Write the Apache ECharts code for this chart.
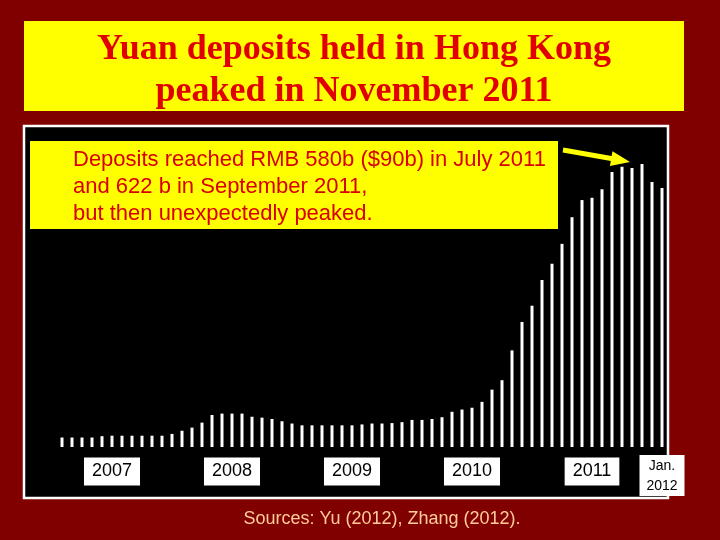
<!DOCTYPE html>
<html>
<head>
<meta charset="utf-8">
<script src="https://cdn.jsdelivr.net/npm/echarts@6/dist/echarts.min.js"></script>
<style>html,body{margin:0;padding:0;background:#800000;}#c{width:720px;height:540px;}</style>
</head>
<body>
<div id="c"></div>
<script>
// Monthly categories, Jan 2007 .. Jan 2012
const categories = [
  '2007-01','2007-02','2007-03','2007-04','2007-05','2007-06','2007-07','2007-08','2007-09','2007-10','2007-11','2007-12',
  '2008-01','2008-02','2008-03','2008-04','2008-05','2008-06','2008-07','2008-08','2008-09','2008-10','2008-11','2008-12',
  '2009-01','2009-02','2009-03','2009-04','2009-05','2009-06','2009-07','2009-08','2009-09','2009-10','2009-11','2009-12',
  '2010-01','2010-02','2010-03','2010-04','2010-05','2010-06','2010-07','2010-08','2010-09','2010-10','2010-11','2010-12',
  '2011-01','2011-02','2011-03','2011-04','2011-05','2011-06','2011-07','2011-08','2011-09','2011-10','2011-11','2011-12',
  '2012-01'
];
// Yuan deposits in Hong Kong, RMB billion
const deposits = [
  21, 21, 21, 21, 24, 25, 25, 25, 25, 25, 25, 29,
  36, 43, 54, 71, 74, 74, 74, 67, 65, 62, 57, 52,
  48, 48, 48, 48, 48, 48, 50, 52, 52, 53, 55, 60,
  60, 62, 66, 78, 83, 87, 100, 127, 148, 214, 277, 313,
  370, 406, 450, 509, 547, 552, 571, 609, 621, 618, 627, 587,
  574
];
// Tick labels, keyed by the category they sit under
const tickLabels = {
  '2007-06': '2007',
  '2008-06': '2008',
  '2009-06': '2009',
  '2010-06': '2010',
  '2011-06': '2011',
  '2012-01': 'Jan.|2012'
};
const titleText = 'Yuan deposits held in Hong Kong\npeaked in November 2011';
const noteText = 'Deposits reached RMB 580b ($90b) in July 2011\nand 622 b in September 2011,\nbut then unexpectedly peaked.';
const sourceText = 'Sources: Yu (2012), Zhang (2012).';

const chart = echarts.init(document.getElementById('c'));
chart.setOption({
  backgroundColor: '#800000',
  animation: false,
  title: {
    text: titleText,
    left: 354,
    top: 29,
    textAlign: 'center',
    padding: 0,
    textStyle: {
      fontFamily: 'Liberation Serif',
      fontWeight: 'bold',
      fontSize: 36,
      lineHeight: 42,
      color: '#e00000'
    }
  },
  graphic: [
    { type: 'rect', z: -20, shape: { x: 24, y: 21, width: 660, height: 90 }, style: { fill: '#ffff00' } },
    { type: 'rect', z: -10, shape: { x: 24, y: 126, width: 644, height: 372 }, style: { fill: '#000000', stroke: '#ffffff', lineWidth: 2.5 } },
    { type: 'rect', z: 5, shape: { x: 30, y: 141, width: 528, height: 88 }, style: { fill: '#ffff00' } },
    { type: 'text', z: 6, x: 73, y: 146, style: { text: noteText, font: '22px "Liberation Sans", Arial, sans-serif', lineHeight: 27, fill: '#d80000' } },
    { type: 'polygon', z: 6, shape: { points: [[563.4,147.6],[611.6,156.1],[612.5,151.2],[630,162],[609.9,166.0],[610.8,161.1],[562.6,152.4]] }, style: { fill: '#ffff00' } },
    { type: 'text', z: 6, x: 382, y: 519, style: { text: sourceText, font: '18px "Liberation Sans", Arial, sans-serif', fill: '#ffcc99', align: 'center', verticalAlign: 'middle' } }
  ],
  grid: { left: 57, right: 53, top: 131, bottom: 93, containLabel: false },
  xAxis: {
    type: 'category',
    data: categories,
    axisLine: { show: false },
    axisTick: { show: false },
    splitLine: { show: false },
    axisLabel: {
      interval: function (idx, val) { return tickLabels.hasOwnProperty(val); },
      margin: 8,
      formatter: function (val) {
        const t = tickLabels[val];
        if (!t) return '';
        if (t.indexOf('|') >= 0) {
          const p = t.split('|');
          return '{j1|' + p[0] + '}\n{j2|' + p[1] + '}';
        }
        return '{g| }\n{y|' + t + '}';
      },
      rich: {
        g: { fontSize: 4, lineHeight: 7, height: 7 },
        y: { fontFamily: 'Liberation Sans', fontSize: 18, lineHeight: 19, color: '#000', backgroundColor: '#ffffff', padding: [5, 8, 5, 8] },
        j1: { fontFamily: 'Liberation Sans', fontSize: 14, lineHeight: 22, height: 22, width: 45, align: 'center', verticalAlign: 'bottom', color: '#000', backgroundColor: '#ffffff' },
        j2: { fontFamily: 'Liberation Sans', fontSize: 14, lineHeight: 19, height: 19, width: 45, align: 'center', verticalAlign: 'top', color: '#000', backgroundColor: '#ffffff' }
      }
    }
  },
  yAxis: {
    type: 'value',
    min: 0,
    max: 700,
    show: false,
    splitLine: { show: false }
  },
  series: [{
    type: 'bar',
    data: deposits,
    barWidth: 3,
    itemStyle: { color: '#ffffff' },
    z: 2
  }]
});
</script>
</body>
</html>
